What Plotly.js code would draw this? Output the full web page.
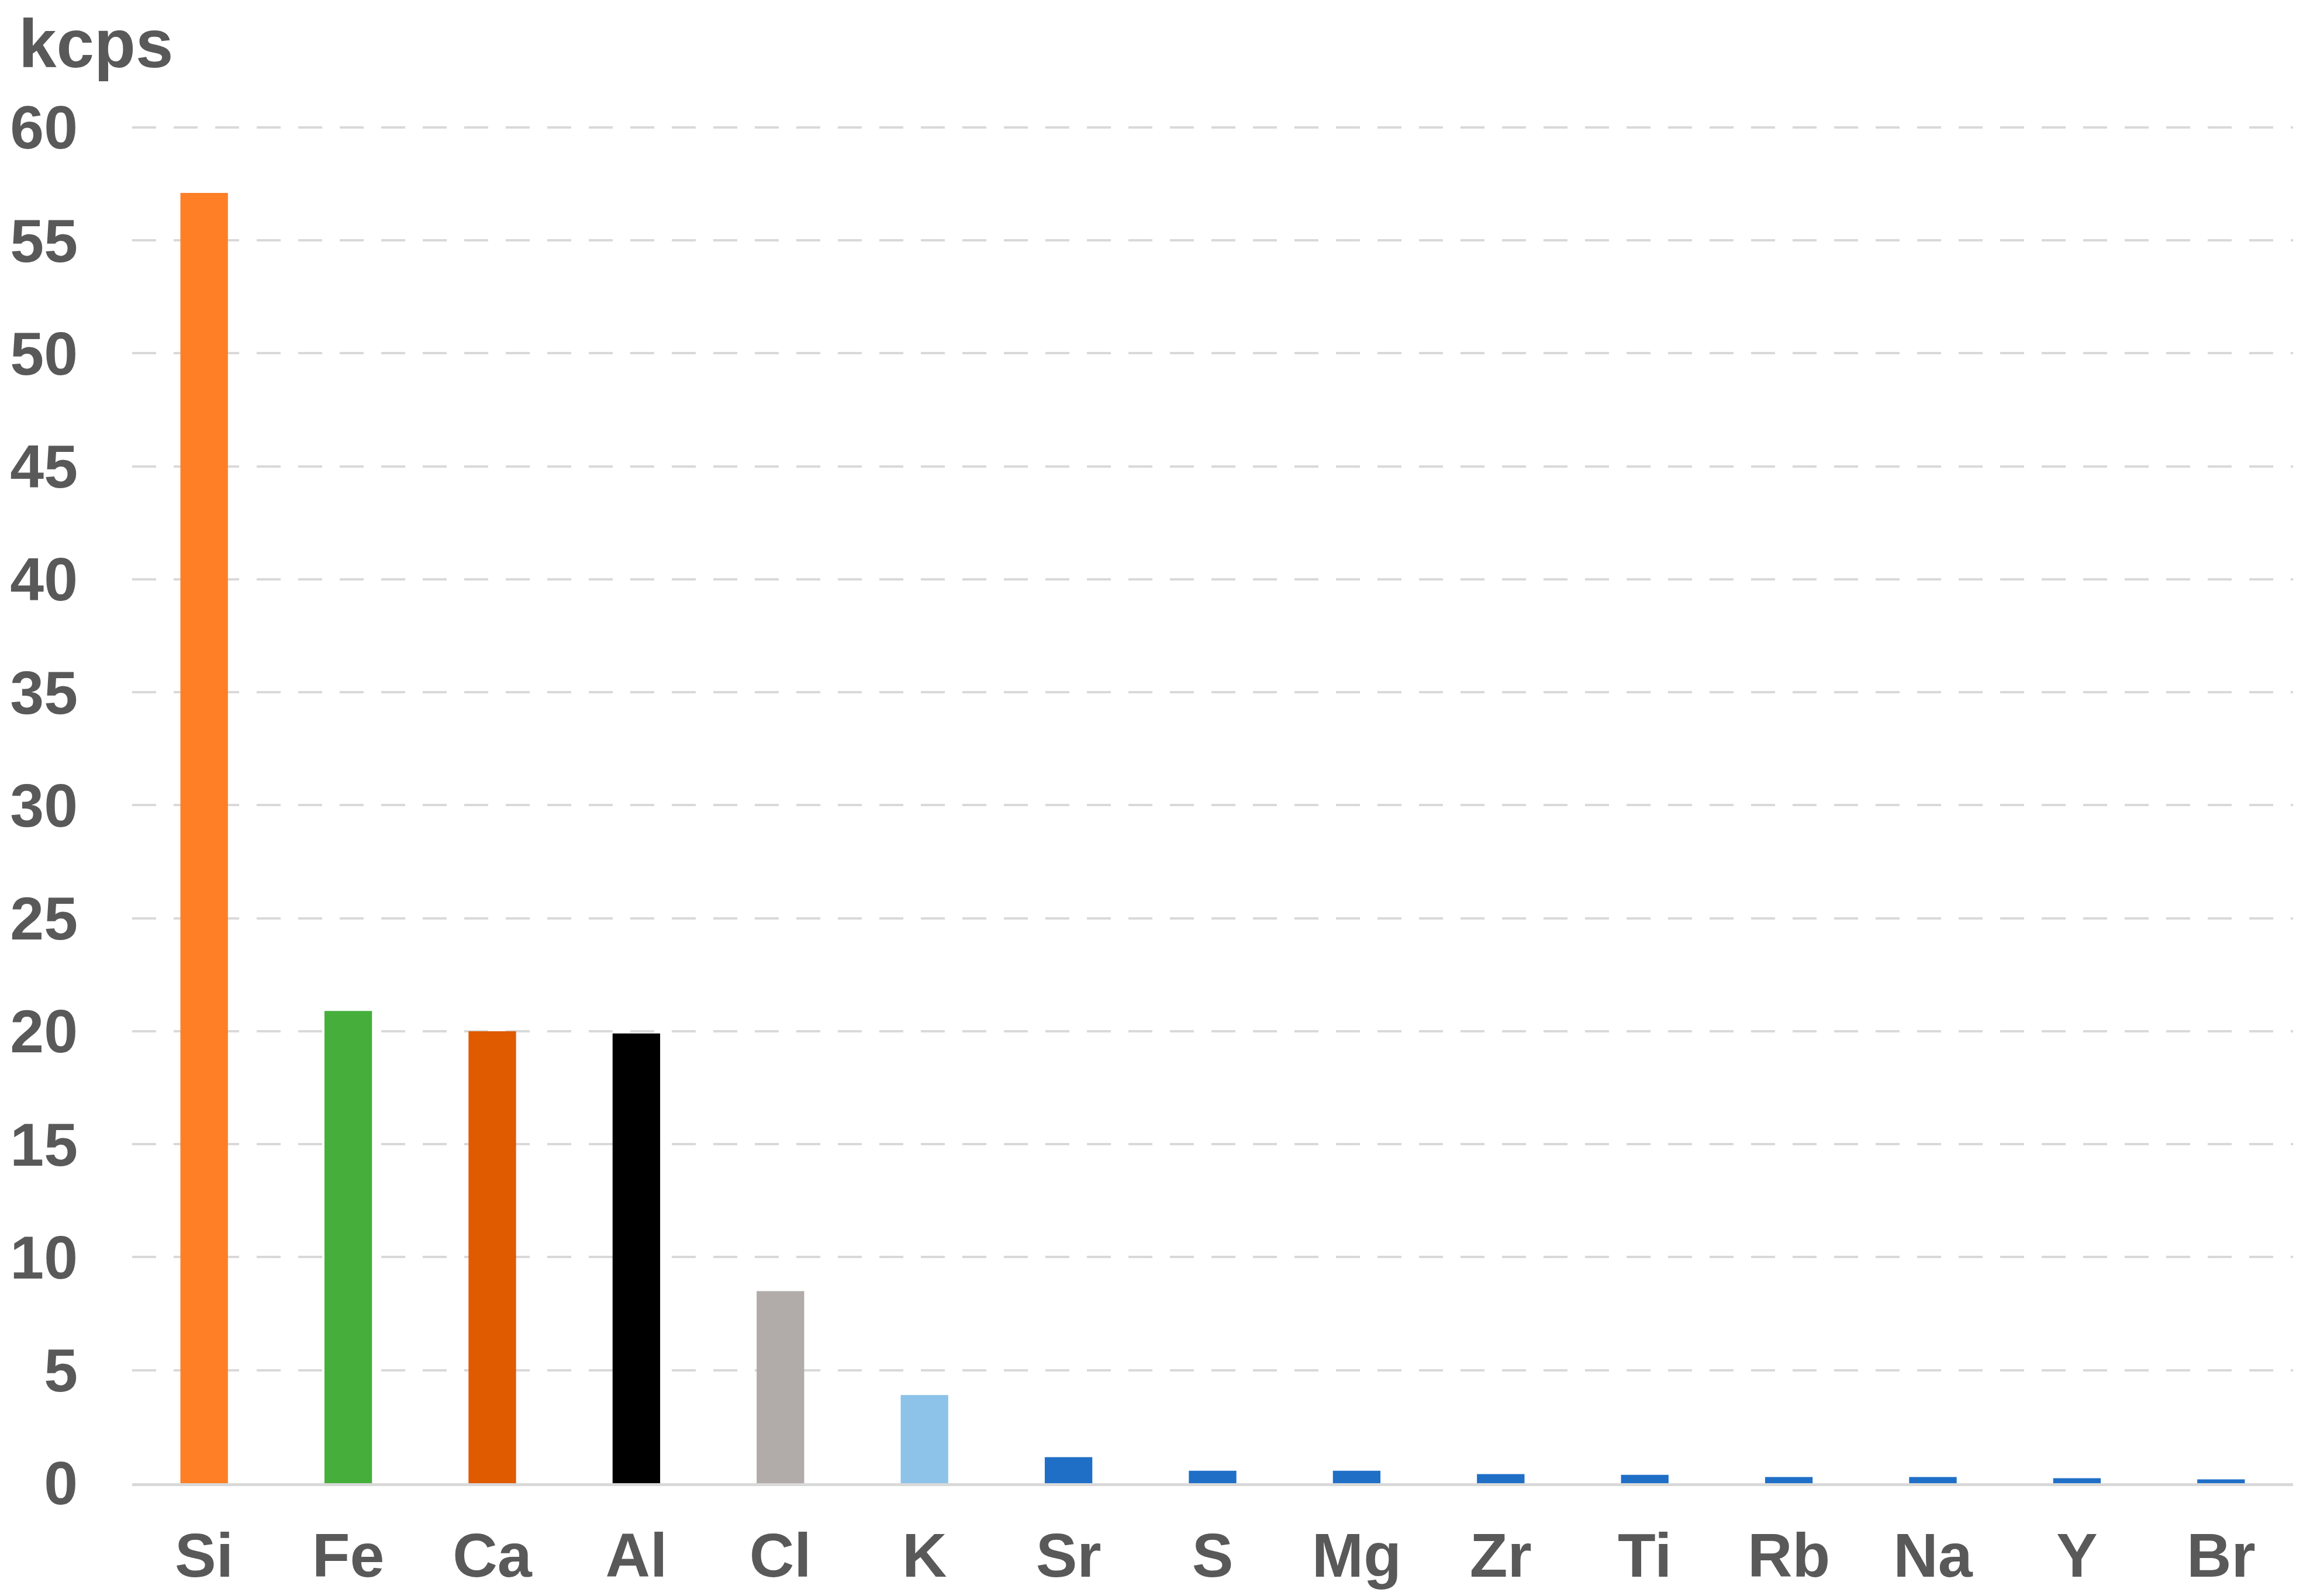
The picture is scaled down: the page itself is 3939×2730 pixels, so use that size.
<!DOCTYPE html>
<html>
<head>
<meta charset="utf-8">
<script src="https://cdn.plot.ly/plotly-3.0.1.min.js"></script>
<style>html,body{margin:0;padding:0;background:#fff;}#chart{width:3939px;height:2730px;}</style>
</head>
<body>
<div id="chart"></div>
<script>
const elements = ["Si","Fe","Ca","Al","Cl","K","Sr","S","Mg","Zr","Ti","Rb","Na","Y","Br"];
const kcps = [57.1, 20.9, 20.0, 19.9, 8.5, 3.9, 1.15, 0.55, 0.55, 0.4, 0.37, 0.27, 0.27, 0.22, 0.17];
const barColors = ["#FF7F27","#46AF3C","#E05A00","#000000","#B1ACA9","#8DC3E9",
  "#1F6FC7","#1F6FC7","#1F6FC7","#1F6FC7","#1F6FC7","#1F6FC7","#1F6FC7","#1F6FC7","#1F6FC7"];
const yTicks = [0,5,10,15,20,25,30,35,40,45,50,55,60];

const font = {family: "Liberation Sans, Arial, sans-serif", color: "#595959"};

Plotly.newPlot("chart", [{
  type: "bar",
  x: elements,
  y: kcps,
  marker: {color: barColors, line: {width: 0}},
  hoverinfo: "x+y"
}], {
  width: 3939, height: 2730,
  margin: {l: 226, r: 17, t: 214, b: 193, pad: 0},
  paper_bgcolor: "#fff", plot_bgcolor: "#fff",
  bargap: 0.67,
  showlegend: false,
  xaxis: {
    type: "category",
    showgrid: false,
    showline: true, linecolor: "#D9D9D9", linewidth: 5,
    ticks: "",
    ticklabelstandoff: 28,
    tickfont: Object.assign({size: 106, weight: "bold"}, font)
  },
  yaxis: {
    range: [0, 60.1],
    tickvals: yTicks,
    ticktext: yTicks.map(String),
    showgrid: true, gridcolor: "#D9D9D9", gridwidth: 4, griddash: "41px,30px",
    zeroline: false,
    showline: false,
    ticks: "",
    ticklabelstandoff: 92,
    tickfont: Object.assign({size: 104, weight: "bold"}, font)
  },
  annotations: [{
    xref: "paper", yref: "paper", x: -0.053, y: 1.0, yshift: 206,
    xanchor: "left", yanchor: "top",
    text: "kcps", showarrow: false,
    font: Object.assign({size: 116, weight: "bold"}, font)
  }]
}, {staticPlot: true});
</script>
</body>
</html>
